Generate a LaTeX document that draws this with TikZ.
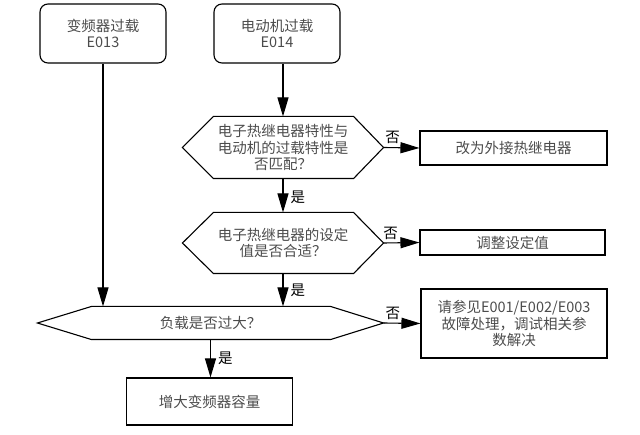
\documentclass[tikz,border=0pt]{standalone}
\usepackage{fontspec}
\setmainfont{Noto Sans CJK SC}
\usetikzlibrary{arrows.meta}
\tikzset{
  >={Triangle[length=19pt, width=11pt]},
  every node/.style={font=\fontsize{14.5}{16.5}\selectfont},
  fault/.style={draw, rounded corners=8pt, minimum width=126pt, minimum height=59pt, align=center, text=black!70},
  action/.style={draw, align=center, text=black!70},
  check/.style={inner sep=0pt, align=center, text=black!70},
  answer/.style={text=black, inner sep=3pt},
}

\begin{document}
\begin{tikzpicture}[x=1pt, y=-1pt, line width=1.1pt]
      \useasboundingbox (0,0) rectangle (640,435);
      \node[fault] (e013) at (103,33.5) {变频器过载\\E013};
      \node[fault] (e014) at (277,33.5) {电动机过载\\E014};
      \node[check, minimum width=200pt, minimum height=61pt] (match) at (283,147.5) {电子热继电器特性与\\电动机的过载特性是\\否匹配？};
      \node[check, minimum width=200pt, minimum height=60pt] (setting) at (283,243) {电子热继电器的设定\\值是否合适？};
      \node[check, minimum width=345pt, minimum height=32pt] (load) at (210.5,323) {负载是否过大？};
      \node[action, minimum width=187pt, minimum height=34pt] (relay) at (513.5,148) {改为外接热继电器};
      \node[action, minimum width=185pt, minimum height=25pt] (adjust) at (512.5,242.5) {调整设定值};
      \node[action, minimum width=186pt, minimum height=69pt] (other) at (514,323.5) {请参见E001/E002/E003\\故障处理，调试相关参\\数解决};
      \node[action, minimum width=166pt, minimum height=47pt] (bigger) at (209.5,401.5) {增大变频器容量};
      \draw (match.west) -- ([xshift=31pt]match.north west) -- ([xshift=-30pt]match.north east) -- (match.east)
        -- ([xshift=-30pt]match.south east) -- ([xshift=31pt]match.south west) -- cycle;
      \draw (setting.west) -- ([xshift=31pt]setting.north west) -- ([xshift=-30pt]setting.north east) -- (setting.east)
        -- ([xshift=-30pt]setting.south east) -- ([xshift=31pt]setting.south west) -- cycle;
      \draw (load.west) -- ([xshift=54pt]load.north west) -- ([xshift=-53pt]load.north east) -- (load.east)
        -- ([xshift=-53pt]load.south east) -- ([xshift=54pt]load.south west) -- cycle;
      \draw[->] (e014.south -| match.north) -- (match.north);
      \draw[->] (e013.south) -- (e013.south |- load.north);
      \draw[->] (match.east) -- node[answer, above, pos=0.25] {否} (relay.west);
      \draw[->] (match.south) -- node[answer, right, xshift=4pt, yshift=-2pt] {是} (setting.north);
      \draw[->] (setting.east) -- node[answer, above, pos=0.2] {否} (adjust.west);
      \draw[->] (setting.south) -- node[answer, right, xshift=4pt] {是} (setting.south |- load.north);
      \draw[->] (load.east) -- node[answer, above, pos=0.25] {否} (other.west);
      \draw[->] (load.south) -- node[answer, right, xshift=4pt] {是} (load.south |- bigger.north);
    \end{tikzpicture}
\end{document}
